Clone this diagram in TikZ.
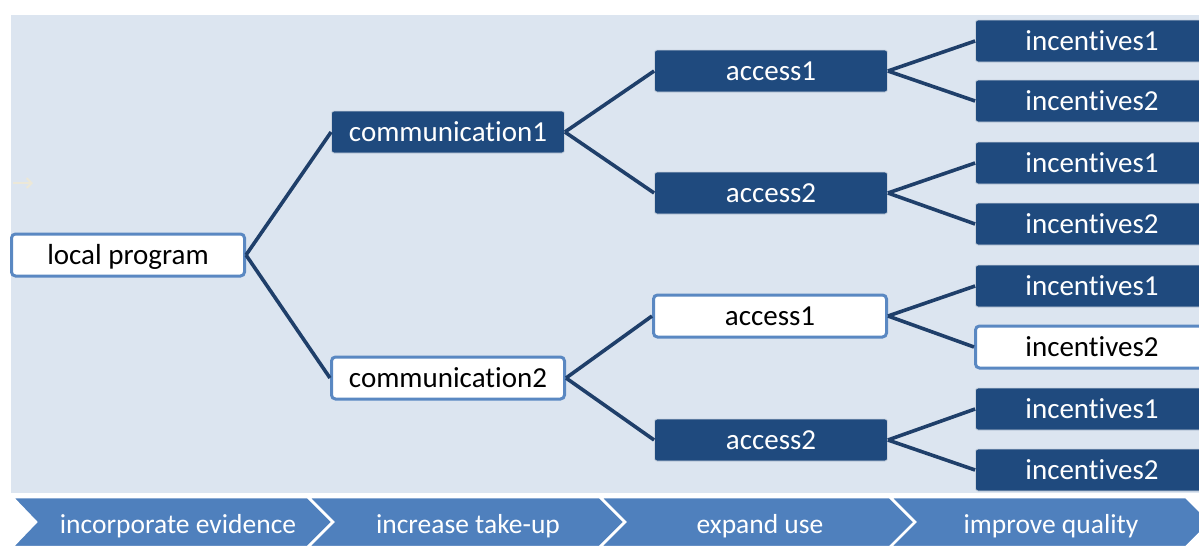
\documentclass[tikz,border=0pt]{standalone}
\usepackage{fontspec}
\setmainfont[Ligatures=NoCommon]{Carlito}
\usetikzlibrary{arrows.meta}
\definecolor{panelblue}{HTML}{DCE5F0}
\definecolor{boxdark}{HTML}{1F4A7E}
\definecolor{boxedge}{HTML}{C9D3DF}
\definecolor{boxline}{HTML}{5A88C2}
\definecolor{linkblue}{HTML}{1F3F6A}
\definecolor{stageblue}{HTML}{4F80BD}
\definecolor{faintarrow}{HTML}{ECE8D8}
\begin{document}
\begin{tikzpicture}[x=1pt,y=-1pt,
  box/.style={minimum width=233pt, minimum height=42pt, inner sep=0pt,
    text height=19pt, text depth=0pt, font=\fontsize{29}{34}\selectfont},
  darkbox/.style={box, fill=boxdark, draw=boxedge, line width=0.8pt,
    rounded corners=2.5pt, text=white},
  lightbox/.style={box, fill=white, draw=boxline, line width=3pt,
    rounded corners=4pt, text=black},
  link/.style={draw=linkblue, line width=3.6pt},
  stage/.style={fill=stageblue, draw=white, line width=2.5pt, line join=miter},
  stagetext/.style={text=white, inner sep=0pt, text height=19pt, text depth=0pt,
    font=\fontsize{27.5}{32}\selectfont}
]
\useasboundingbox (0,0) rectangle (1199,546);
\clip (0,0) rectangle (1199,546);
\fill[white] (0,0) rectangle (1199,546);

% background panel
\fill[panelblue] (11,15) rectangle (1199,493);

% faint arrow on the left edge
\coordinate (fa1) at (13,183);
\coordinate (fa2) at (33,183);
\draw[faintarrow, line width=2pt, -{Straight Barb[length=5pt,width=10pt]}] (fa1) -- (fa2);

% tree nodes
\node[lightbox] (root) at (128,255) {local program};

\node[darkbox]  (c1) at (448,132) {communication1};
\node[lightbox] (c2) at (448,378) {communication2};

\node[darkbox]  (a11) at (771,71)  {access1};
\node[darkbox]  (a12) at (771,193) {access2};
\node[lightbox] (a21) at (770,316) {access1};
\node[darkbox]  (a22) at (771,440) {access2};

\node[darkbox]  (i1) at (1092,41)  {incentives1};
\node[darkbox]  (i2) at (1092,101) {incentives2};
\node[darkbox]  (i3) at (1092,163) {incentives1};
\node[darkbox]  (i4) at (1092,224) {incentives2};
\node[darkbox]  (i5) at (1092,286) {incentives1};
\node[lightbox] (i6) at (1092,347) {incentives2};
\node[darkbox]  (i7) at (1092,409) {incentives1};
\node[darkbox]  (i8) at (1092,470) {incentives2};

% connectors
\draw[link] (root.east) -- (c1.west);
\draw[link] (root.east) -- (c2.west);
\draw[link] (c1.east) -- (a11.west);
\draw[link] (c1.east) -- (a12.west);
\draw[link] (c2.east) -- (a21.west);
\draw[link] (c2.east) -- (a22.west);
\draw[link] (a11.east) -- (i1.west);
\draw[link] (a11.east) -- (i2.west);
\draw[link] (a12.east) -- (i3.west);
\draw[link] (a12.east) -- (i4.west);
\draw[link] (a21.east) -- (i5.west);
\draw[link] (a21.east) -- (i6.west);
\draw[link] (a22.east) -- (i7.west);
\draw[link] (a22.east) -- (i8.west);

% stage chevrons along the bottom
\draw[stage] (12,497) -- (308,497) -- (333,522) -- (308,547) -- (12,547) -- (36,522) -- cycle;
\draw[stage] (308,497) -- (600,497) -- (625,522) -- (600,547) -- (308,547) -- (333,522) -- cycle;
\draw[stage] (600,497) -- (890,497) -- (915,522) -- (890,547) -- (600,547) -- (625,522) -- cycle;
\draw[stage] (890,497) -- (1186,497) -- (1211,522) -- (1186,547) -- (890,547) -- (915,522) -- cycle;

\node[stagetext] (s1) at (178,524) {incorporate evidence};
\node[stagetext] (s2) at (468,524) {increase take-up};
\node[stagetext] (s3) at (760,524) {expand use};
\node[stagetext] (s4) at (1051,524) {improve quality};
\end{tikzpicture}
\end{document}
